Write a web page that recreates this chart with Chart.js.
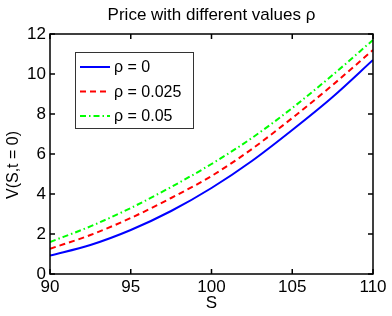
<!DOCTYPE html>
<html>
<head>
<meta charset="utf-8">
<script src="https://cdn.jsdelivr.net/npm/chart.js@4"></script>
<style>
  body { margin: 0; background: #fff; }
  canvas { display: block; }
</style>
</head>
<body>
<canvas id="graph" width="392" height="316"></canvas>
<script>
// stock price S
var sValues = [90, 92.5, 95, 97.5, 100, 102.5, 105, 107.5, 110];
// V(S, t = 0) for each rho
var rho0 = [0.92, 1.45, 2.2, 3.15, 4.3, 5.65, 7.2, 8.85, 10.7];
var rho025 = [1.26, 1.95, 2.8, 3.8, 4.9, 6.25, 7.8, 9.45, 11.2];
var rho05 = [1.6, 2.38, 3.3, 4.35, 5.5, 6.8, 8.3, 9.95, 11.7];
var seriesLabels = ['ρ = 0', 'ρ = 0.025', 'ρ = 0.05'];
var xTicks = [90, 95, 100, 105, 110];
var yTicks = [0, 2, 4, 6, 8, 10, 12];

var FONT = 'Liberation Sans, Arial, Helvetica, sans-serif';

function points(ys) {
    return sValues.map(function (s, i) { return { x: s, y: ys[i] }; });
}

// box around plot + inward ticks + legend + titles (matlab look)
var boxPlugin = {
    id: 'box',
    afterDatasetsDraw: function (chart) {
        var ctx = chart.ctx;
        var a = chart.chartArea;
        var xs = chart.scales.x, ys = chart.scales.y;
        ctx.save();
        ctx.strokeStyle = '#000';
        ctx.lineWidth = 1.5;
        ctx.strokeRect(a.left, a.top, a.right - a.left, a.bottom - a.top);
        ctx.beginPath();
        xTicks.forEach(function (v) {
            var px = xs.getPixelForValue(v);
            ctx.moveTo(px, a.bottom); ctx.lineTo(px, a.bottom - 5);
            ctx.moveTo(px, a.top); ctx.lineTo(px, a.top + 5);
        });
        yTicks.forEach(function (v) {
            var py = ys.getPixelForValue(v);
            ctx.moveTo(a.left, py); ctx.lineTo(a.left + 5, py);
            ctx.moveTo(a.right, py); ctx.lineTo(a.right - 5, py);
        });
        ctx.stroke();

        // title, centred on the axes
        ctx.fillStyle = '#000';
        ctx.font = '17px ' + FONT;
        ctx.textAlign = 'center';
        ctx.textBaseline = 'middle';
        ctx.fillText('Price with different values ρ', (a.left + a.right) / 2, 15);

        // y label
        ctx.save();
        ctx.translate(14, 165);
        ctx.rotate(-Math.PI / 2);
        ctx.font = '16px ' + FONT;
        ctx.fillText('V(S,t = 0)', 0, 0);
        ctx.restore();

        // legend
        var lx = 75, ly = 52, lw = 118, lh = 76;
        ctx.fillStyle = '#fff';
        ctx.fillRect(lx, ly, lw, lh);
        ctx.strokeStyle = '#333';
        ctx.lineWidth = 1;
        ctx.strokeRect(lx + 0.5, ly + 0.5, lw, lh);
        ctx.font = '16px ' + FONT;
        ctx.textBaseline = 'middle';
        ctx.textAlign = 'left';
        chart.data.datasets.forEach(function (ds, i) {
            var y = ly + 15 + i * 24.5;
            ctx.strokeStyle = ds.borderColor;
            ctx.lineWidth = ds.borderWidth;
            ctx.setLineDash(ds.borderDash || []);
            ctx.beginPath();
            ctx.moveTo(lx + 5, y); ctx.lineTo(lx + 35, y);
            ctx.stroke();
            ctx.setLineDash([]);
            ctx.fillStyle = '#000';
            ctx.fillText(ds.label, lx + 39, y + 1);
        });
        ctx.restore();
    }
};

var ctx = document.getElementById('graph');

var chart = new Chart(ctx, {
    type: 'line',
    data: {
        datasets: [{
            label: seriesLabels[0],
            data: points(rho0),
            borderColor: '#0000ff',
            borderWidth: 2
        }, {
            label: seriesLabels[1],
            data: points(rho025),
            borderColor: '#ff0000',
            borderWidth: 2,
            borderDash: [6, 4]
        }, {
            label: seriesLabels[2],
            data: points(rho05),
            borderColor: '#00ff00',
            borderWidth: 2,
            borderDash: [6, 3, 1.5, 3]
        }]
    },
    options: {
        responsive: false,
        animation: false,
        events: [],
        elements: {
            point: { radius: 0 },
            line: { cubicInterpolationMode: 'monotone', fill: false }
        },
        layout: { padding: { left: 0, right: 19, top: 34, bottom: 0 } },
        plugins: {
            legend: { display: false },
            tooltip: { enabled: false },
            title: { display: false }
        },
        scales: {
            x: {
                type: 'linear',
                min: 90,
                max: 110,
                afterBuildTicks: function (scale) {
                    scale.ticks = xTicks.map(function (v) { return { value: v }; });
                },
                afterFit: function (scale) { scale.height = 42; },
                ticks: {
                    color: '#000',
                    font: { family: FONT, size: 17 },
                    padding: 3,
                    maxRotation: 0
                },
                grid: { display: false, drawTicks: false },
                border: { display: false },
                title: {
                    display: true,
                    text: 'S',
                    color: '#000',
                    font: { family: FONT, size: 17 },
                    padding: { top: 0, bottom: 2 }
                }
            },
            y: {
                min: 0,
                max: 12,
                afterBuildTicks: function (scale) {
                    scale.ticks = yTicks.map(function (v) { return { value: v }; });
                },
                afterFit: function (scale) { scale.width = 50; },
                ticks: {
                    color: '#000',
                    font: { family: FONT, size: 17 },
                    padding: 4
                },
                grid: { display: false, drawTicks: false },
                border: { display: false }
            }
        }
    },
    plugins: [boxPlugin]
});
</script>
</body>
</html>
